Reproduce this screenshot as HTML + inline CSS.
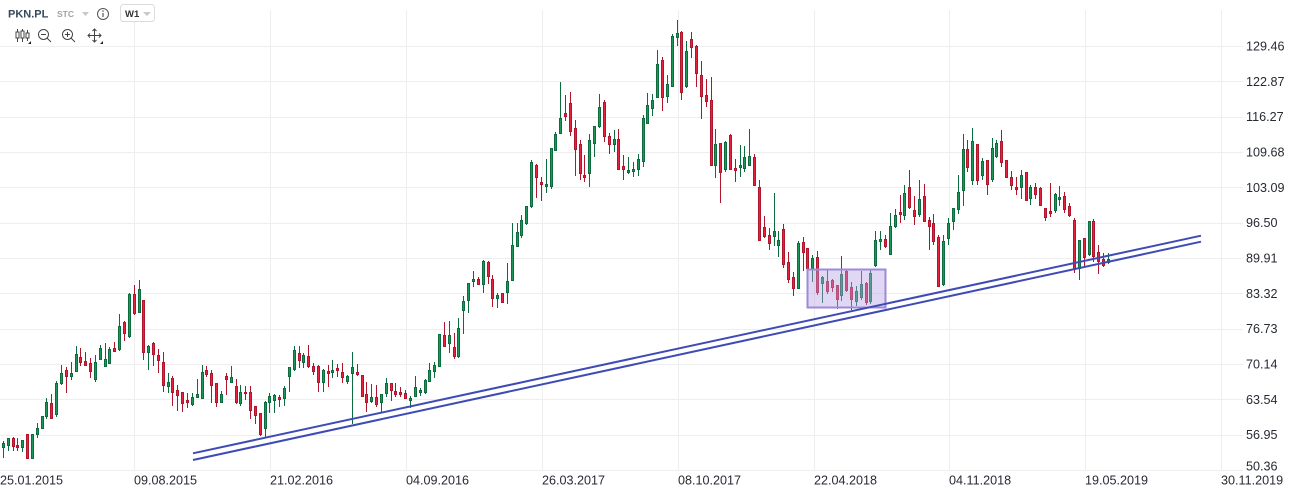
<!DOCTYPE html>
<html>
<head>
<meta charset="utf-8">
<style>
html,body{margin:0;padding:0;background:#fff;}
body{width:1303px;height:493px;overflow:hidden;position:relative;font-family:"Liberation Sans",sans-serif;}
svg{position:absolute;left:0;top:0;}
.ax{font-family:"Liberation Sans",sans-serif;font-size:12.6px;fill:#262a33;}
</style>
</head>
<body>
<svg id="c" width="1303" height="493" viewBox="0 0 1303 493" xmlns="http://www.w3.org/2000/svg">
<g id="grid" stroke="#eeeeee" stroke-width="1" shape-rendering="crispEdges"></g>
<g id="candles" shape-rendering="crispEdges"></g>
<rect x="807.5" y="269.5" width="78" height="38" fill="rgba(180,160,230,0.42)" stroke="#9e8ad8" stroke-width="2"/>
<line x1="193" y1="453.3" x2="1201" y2="235.7" stroke="#3f4bb5" stroke-width="2"/>
<line x1="193" y1="460" x2="1201" y2="241.7" stroke="#3f4bb5" stroke-width="2"/>
<g id="labels"></g>

<!-- header -->
<text x="8" y="17.5" font-family="Liberation Sans" font-weight="bold" font-size="11px" fill="#34495e">PKN.PL</text>
<text x="57" y="17" font-family="Liberation Sans" font-weight="bold" font-size="8.5px" fill="#9aa3b0">STC</text>
<path d="M82 12 L89 12 L85.5 16 Z" fill="#c4c8cf"/>
<circle cx="103" cy="14" r="5.5" fill="none" stroke="#555" stroke-width="1"/>
<line x1="103" y1="13" x2="103" y2="17" stroke="#555" stroke-width="1.2"/>
<circle cx="103" cy="11" r="0.8" fill="#555"/>
<rect x="120.5" y="4.5" width="34" height="17" rx="3" fill="#fff" stroke="#dcdcdc"/>
<text x="125" y="17" font-family="Liberation Sans" font-weight="bold" font-size="9.5px" fill="#333">W1</text>
<path d="M143 12 L151 12 L147 16 Z" fill="#c4c8cf"/>
<!-- icon row -->
<g stroke="#444" stroke-width="1" fill="none">
  <line x1="17.5" y1="29" x2="17.5" y2="42"/>
  <rect x="16" y="32" width="3" height="6" fill="#fff"/>
  <line x1="22.5" y1="29" x2="22.5" y2="42"/>
  <rect x="21" y="31" width="3" height="7" fill="#fff"/>
  <line x1="27.5" y1="30" x2="27.5" y2="41"/>
  <rect x="26" y="33" width="3" height="5" fill="#fff"/>
  <circle cx="43.5" cy="34.5" r="5"/>
  <line x1="47" y1="38" x2="51" y2="42"/>
  <line x1="41" y1="34.5" x2="46" y2="34.5"/>
  <circle cx="67.5" cy="34.5" r="5"/>
  <line x1="71" y1="38" x2="75" y2="42"/>
  <line x1="65" y1="34.5" x2="70" y2="34.5"/>
  <line x1="67.5" y1="32" x2="67.5" y2="37"/>
  <line x1="88" y1="35.5" x2="101" y2="35.5"/>
  <line x1="94.5" y1="29" x2="94.5" y2="42"/>
  <path d="M90 33.5 L88 35.5 L90 37.5 M99 33.5 L101 35.5 L99 37.5 M92.5 31 L94.5 29 L96.5 31 M92.5 40 L94.5 42 L96.5 40"/>
</g>
<path d="M28 44 L31 44 L31 41 Z" fill="#222"/>
<path d="M100 44 L103 44 L103 41 Z" fill="#222"/>
</svg>
<script>
(function(){
var NS="http://www.w3.org/2000/svg";
function el(parent,tag,attrs,text){var e=document.createElementNS(NS,tag);for(var k in attrs)e.setAttribute(k,attrs[k]);if(text!=null)e.textContent=text;parent.appendChild(e);return e;}
var grid=document.getElementById('grid'),labels=document.getElementById('labels'),cg=document.getElementById('candles');
var prices=["50.36","56.95","63.54","70.14","76.73","83.32","89.91","96.50","103.09","109.68","116.27","122.87","129.46"];
for(var k=0;k<13;k++){
  var y=470-k*35.33;var yp=Math.round(y)+0.5;
  el(grid,'line',{x1:0,y1:yp,x2:1243,y2:yp});
  var ly=(k==0)?470.5:(y+4.5);
  el(labels,'text',{x:1246,y:ly.toFixed(1),'class':'ax'},prices[k]);
}
var dates=["09.08.2015","21.02.2016","04.09.2016","26.03.2017","08.10.2017","22.04.2018","04.11.2018","19.05.2019","30.11.2019"];
el(labels,'text',{x:0,y:484.5,'class':'ax'},"25.01.2015");
for(var j=0;j<9;j++){
  var x=134+j*135.9;var xp=Math.round(x)+0.5;
  el(grid,'line',{x1:xp,y1:10,x2:xp,y2:470});
  el(labels,'text',{x:Math.round(x),y:484.5,'class':'ax'},dates[j]);
}
var D="g,443,446,456,460;g,441,443,448,458;g,438,438,446,451;r,437,438,447,451;r,438,445,448,451;g,440,440,448,452;r,434,434,459,459;g,434,434,459,459;g,423,428,435,438;g,416,416,429,429;"+
"g,398,402,417,419;r,394,403,419,419;g,381,383,415,417;g,365,373,384,385;r,367,370,377,393;g,362,373,377,380;g,346,354,372,372;r,348,357,363,366;r,352,361,366,366;r,358,363,372,378;"+
"g,355,362,380,382;g,345,348,360,360;g,343,359,367,367;g,347,349,364,364;r,342,348,352,352;g,314,326,350,351;r,321,322,334,341;g,293,294,337,338;r,285,294,314,315;g,280,289,313,313;"+
"r,300,300,353,360;g,345,346,353,370;r,342,343,355,366;r,349,355,361,373;r,352,362,386,392;g,373,382,387,393;r,376,378,393,406;r,385,390,396,411;r,392,392,404,412;r,393,400,403,408;"+
"g,393,397,405,406;g,379,394,398,398;g,365,372,399,399;r,366,370,375,377;r,370,373,386,403;r,383,383,403,407;g,391,394,403,403;r,373,376,380,395;g,366,377,383,383;r,379,386,403,404;"+
"g,385,392,404,406;r,386,392,394,400;r,386,392,411,419;r,406,406,416,424;r,413,413,435,436;g,401,402,429,437;g,393,396,403,413;g,394,395,401,413;r,395,397,400,407;g,386,388,399,406;"+
"g,367,367,377,392;g,346,350,370,371;r,346,353,361,368;g,353,355,363,368;r,345,356,367,368;r,363,366,372,375;r,365,366,383,392;g,369,370,383,392;r,365,371,374,387;g,360,370,373,378;"+
"r,364,368,371,377;r,363,372,378,383;g,375,376,382,384;g,352,367,374,424;r,364,372,375,376;r,375,375,397,397;r,382,394,403,412;g,384,397,402,403;r,385,397,405,407;g,394,394,403,412;"+
"g,378,383,394,397;r,383,383,391,401;r,383,391,395,397;r,387,392,395,397;r,390,393,399,399;g,396,398,401,408;g,376,387,397,397;g,388,390,393,396;g,379,380,393,394;g,363,370,382,382;"+
"g,362,365,372,378;g,334,334,367,367;r,322,335,347,347;g,321,335,344,353;r,333,347,357,359;g,318,328,357,358;g,296,301,311,334;g,283,283,301,313;g,271,279,282,287;r,277,279,285,285;"+
"g,260,261,285,293;r,261,262,277,284;r,275,279,299,307;g,293,295,299,308;r,293,293,303,303;g,263,281,293,304;g,223,245,281,281;g,223,232,247,247;g,215,220,236,238;g,206,206,224,225;"+
"g,160,162,207,208;r,164,165,178,198;r,177,182,185,201;g,159,184,187,193;g,148,148,187,189;g,132,134,151,151;g,82,118,134,134;r,95,113,117,121;r,92,103,132,136;r,120,128,150,176;"+
"r,140,144,174,180;r,155,175,178,182;g,134,140,174,187;g,126,126,144,157;g,94,107,127,128;r,100,102,137,142;r,133,136,145,154;g,130,139,145,152;r,129,139,170,170;r,155,166,170,180;"+
"g,157,170,173,174;g,162,169,172,177;g,154,159,170,176;g,115,118,162,167;g,93,105,124,124;g,94,100,109,116;g,50,64,98,98;r,57,60,98,111;g,75,84,97,103;g,34,36,87,87;"+
"g,20,33,38,46;r,31,32,93,100;g,41,51,87,88;r,32,39,48,58;r,45,46,74,87;r,61,75,97,119;r,79,95,102,107;r,77,100,166,166;g,129,144,166,178;r,143,143,173,203;"+
"g,141,142,170,172;r,134,135,170,170;r,159,168,171,182;g,145,165,168,177;g,146,157,169,172;g,129,156,166,166;r,154,157,186,186;r,180,187,241,241;r,216,227,237,238;r,228,235,244,250;"+
"g,193,231,237,246;g,231,240,246,257;r,224,229,265,268;r,252,262,280,283;r,272,277,289,296;g,241,243,289,289;r,237,242,253,271;r,248,248,269,273;g,255,258,269,282;r,251,257,293,295;"+
"g,276,277,284,303;r,270,281,292,294;r,279,280,288,292;r,285,285,300,309;g,256,274,296,301;r,270,271,291,292;r,282,287,300,310;g,286,291,302,306;g,271,284,298,300;r,282,283,303,305;"+
"g,270,273,302,304;g,231,240,266,267;g,231,239,242,250;r,235,239,247,248;g,213,226,255,255;g,209,215,227,228;r,195,212,215,223;g,185,193,216,220;r,170,187,208,209;r,196,210,217,225;"+
"g,180,199,215,217;r,184,196,222,222;r,217,220,227,250;r,214,223,242,245;r,235,237,287,287;g,235,241,285,286;g,218,223,239,245;g,208,208,222,230;g,175,192,210,214;g,134,149,191,206;"+
"r,140,149,168,172;g,128,141,181,185;r,144,144,181,185;g,158,161,176,180;r,160,160,185,195;g,138,148,180,182;g,140,143,157,158;r,130,141,163,167;r,160,160,178,178;r,171,177,186,190;"+
"r,177,187,190,195;g,170,175,188,199;r,172,172,201,201;g,185,187,199,205;r,183,187,195,199;r,187,188,206,206;r,208,208,218,221;r,183,211,214,217;g,193,194,211,213;g,186,197,200,206;"+
"r,192,196,210,213;r,203,206,216,217;r,218,220,270,273;g,240,240,269,280;r,238,238,258,267;g,221,221,255,256;r,219,221,257,262;r,245,252,262,274;r,253,259,266,267;g,253,259,263,264";
var rows=D.split(';');
var col={g:{f:'#1c9659',s:'#0d6c3d'},r:{f:'#e6223e',s:'#b0152c'}};
for(var i=0;i<rows.length;i++){
  var p=rows[i].split(',');var t=p[0];
  var wt=+p[1],bt=+p[2],bb=+p[3],wb=+p[4];
  var cx=-1.5+i*4.847;var c=Math.floor(cx);
  var cc=col[t];
  el(cg,'rect',{x:c,y:wt,width:1,height:Math.max(1,wb-wt),fill:cc.s});
  var h=Math.max(2,bb-bt);
  el(cg,'rect',{x:c-1,y:bt,width:3,height:h,fill:cc.s});
  if(h>2) el(cg,'rect',{x:c,y:bt+1,width:1,height:h-2,fill:cc.f});
}
})();
</script>
</body>
</html>
